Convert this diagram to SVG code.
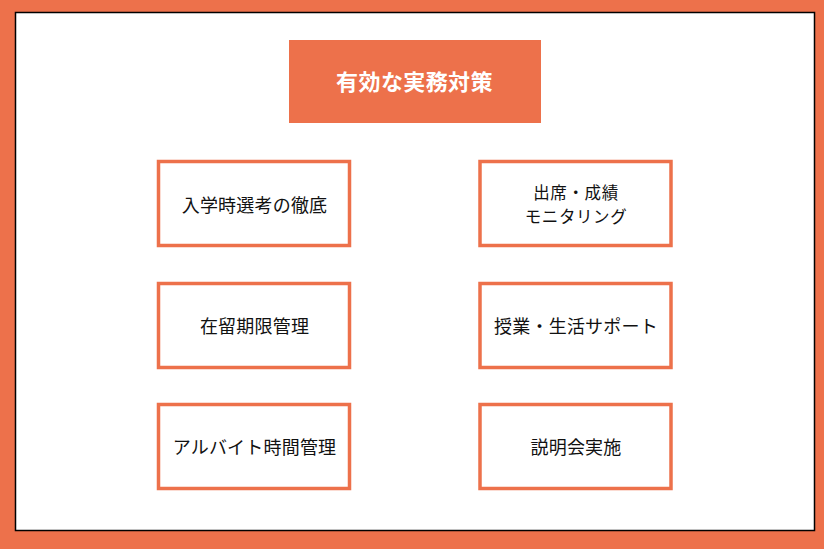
<svg xmlns="http://www.w3.org/2000/svg" width="824" height="549" viewBox="0 0 824 549">
<style>
.bg{fill:#ED714B}
.panel{fill:#FFFFFF;stroke:#000000;stroke-width:1.5}
.title{fill:#ED714B}
.box{fill:#FFFFFF;stroke:#ED714B;stroke-width:3.5}
.tt{font-family:"Noto Sans CJK JP","Noto Sans",sans-serif;font-size:22px;font-weight:bold;fill:#FFFFFF;text-anchor:middle;letter-spacing:0.4px}
.lb{font-family:"Noto Sans CJK JP","Noto Sans",sans-serif;font-size:18px;fill:#111111;text-anchor:middle;letter-spacing:0.2px}
.lb2{font-size:16.5px;letter-spacing:0.6px}
</style>
<rect class="bg" x="0" y="0" width="824" height="549"/>
<rect class="panel" x="15.5" y="12.5" width="799" height="518"/>
<g id="title">
<rect class="title" x="289" y="40" width="252" height="83"/>
<text class="tt" x="414.5" y="90">有効な実務対策</text>
</g>
<g id="connectors"></g>
<g id="n1">
<rect class="box" x="158.5" y="161.5" width="191" height="84"/>
<text class="lb" x="254.5" y="211.5">入学時選考の徹底</text>
</g>
<g id="n2">
<rect class="box" x="480" y="161.5" width="191" height="84"/>
<text class="lb lb2" x="576" y="198.5">出席・成績</text>
<text class="lb lb2" x="576" y="222.5">モニタリング</text>
</g>
<g id="n3">
<rect class="box" x="158.5" y="283.5" width="191" height="84"/>
<text class="lb" x="254.5" y="332.5">在留期限管理</text>
</g>
<g id="n4">
<rect class="box" x="480" y="283.5" width="191" height="84"/>
<text class="lb" x="576" y="332.5">授業・生活サポート</text>
</g>
<g id="n5">
<rect class="box" x="158.5" y="404.5" width="191" height="84"/>
<text class="lb" x="254.5" y="453.5">アルバイト時間管理</text>
</g>
<g id="n6">
<rect class="box" x="480" y="404.5" width="191" height="84"/>
<text class="lb" x="576" y="453.5">説明会実施</text>
</g>
</svg>
